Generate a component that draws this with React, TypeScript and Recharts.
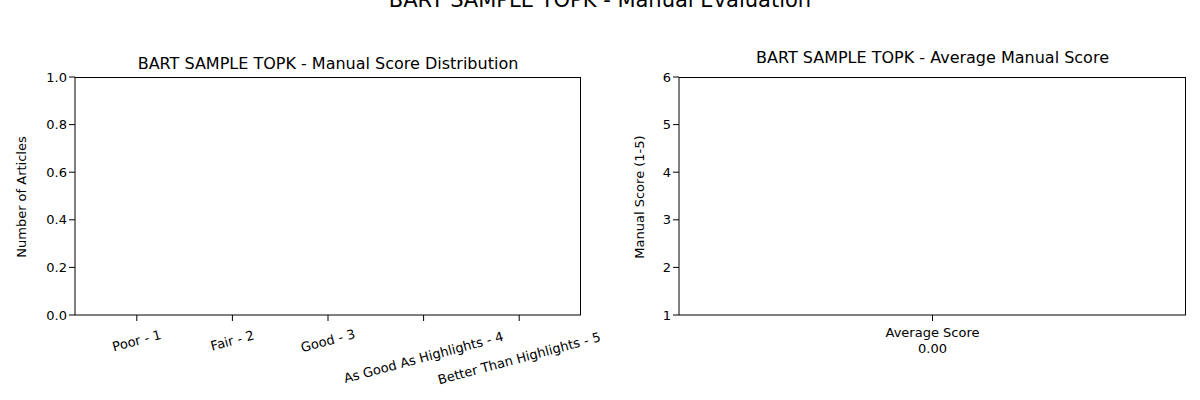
import React from "react";
import { BarChart, Bar, XAxis, YAxis } from "recharts";

const categories = ["Poor - 1", "Fair - 2", "Good - 3", "As Good As Highlights - 4", "Better Than Highlights - 5"];
const counts = [0, 0, 0, 0, 0];
const leftTicks = [0, 0.2, 0.4, 0.6, 0.8, 1.0];
const avgCategories = ["Average Score"];
const avgValues = [0];
const rightTicks = [1, 2, 3, 4, 5, 6];

const distData = categories.map((c, i) => ({ name: c, count: counts[i] }));
const avgData = avgCategories.map((c, i) => ({ name: c, value: avgValues[i] }));

const font = "DejaVu Sans, sans-serif";
const tickStyle = { fontSize: 13, fill: "#000", fontFamily: font };

const RotTick = (props: any) => {
  const { x, y, payload } = props;
  const s = String(payload.value);
  const w = s.length * 7.6;
  const h = 14;
  const rad = (15 * Math.PI) / 180;
  const bh = w * Math.sin(rad) + h * Math.cos(rad);
  const cy = y + 3 + bh / 2;
  return (
    <text x={x} y={cy} transform={`rotate(-15 ${x} ${cy})`} textAnchor="middle" dominantBaseline="central" style={tickStyle}>
      {s}
    </text>
  );
};

const AvgTick = (props: any) => {
  const { x, y, payload, index } = props;
  return (
    <g>
      <text x={x} y={y + 14} textAnchor="middle" style={tickStyle}>{payload.value}</text>
      <text x={x} y={y + 30} textAnchor="middle" style={tickStyle}>{avgValues[index ?? 0].toFixed(2)}</text>
    </g>
  );
};

const abs = (l: number, t: number, extra: any = {}) => ({ position: "absolute" as const, left: l, top: t, fontFamily: font, color: "#000", whiteSpace: "nowrap" as const, ...extra });

export default function App() {
  return (
    <div style={{ position: "absolute", left: 0, top: 0, width: 1200, height: 400, background: "#fff", overflow: "hidden" }}>
      <div style={abs(0, -12, { width: 1200, textAlign: "center", fontSize: 21 })}>BART SAMPLE TOPK - Manual Evaluation</div>
      <div style={abs(75, 54, { width: 506, textAlign: "center", fontSize: 16 })}>BART SAMPLE TOPK - Manual Score Distribution</div>
      <div style={abs(679, 48, { width: 507, textAlign: "center", fontSize: 16 })}>BART SAMPLE TOPK - Average Manual Score</div>
      <div style={abs(21, 197, { fontSize: 13, transform: "translate(-50%,-50%) rotate(-90deg)" })}>Number of Articles</div>
      <div style={abs(639, 197, { fontSize: 13, transform: "translate(-50%,-50%) rotate(-90deg)" })}>Manual Score (1-5)</div>

      <div style={{ position: "absolute", left: 0, top: 0 }}>
        <BarChart width={600} height={400} data={distData} margin={{ top: 77, right: 19, bottom: 25, left: 15 }}>
          <XAxis dataKey="name" interval={0} height={60} padding={{ left: 14, right: 14 }} tick={<RotTick />} stroke="#000" tickLine={{ stroke: "#000" }} />
          <YAxis domain={[0, 1]} ticks={leftTicks} width={60} tickFormatter={(v: number) => v.toFixed(1)} tick={tickStyle} stroke="#000" />
          <Bar dataKey="count" fill="#1f77b4" isAnimationActive={false} />
        </BarChart>
      </div>

      <div style={{ position: "absolute", left: 600, top: 0 }}>
        <BarChart width={600} height={400} data={avgData} margin={{ top: 77, right: 14, bottom: 25, left: 19 }}>
          <XAxis dataKey="name" interval={0} height={60} tick={<AvgTick />} stroke="#000" tickLine={{ stroke: "#000" }} />
          <YAxis domain={[1, 6]} ticks={rightTicks} width={60} allowDataOverflow tick={tickStyle} stroke="#000" />
          <Bar dataKey="value" fill="#1f77b4" isAnimationActive={false} />
        </BarChart>
      </div>

      <div style={{ position: "absolute", left: 75, top: 77, width: 506, height: 238, borderTop: "1px solid #000", borderRight: "1px solid #000", boxSizing: "border-box", pointerEvents: "none" }} />
      <div style={{ position: "absolute", left: 679, top: 77, width: 507, height: 238, borderTop: "1px solid #000", borderRight: "1px solid #000", boxSizing: "border-box", pointerEvents: "none" }} />
    </div>
  );
}
